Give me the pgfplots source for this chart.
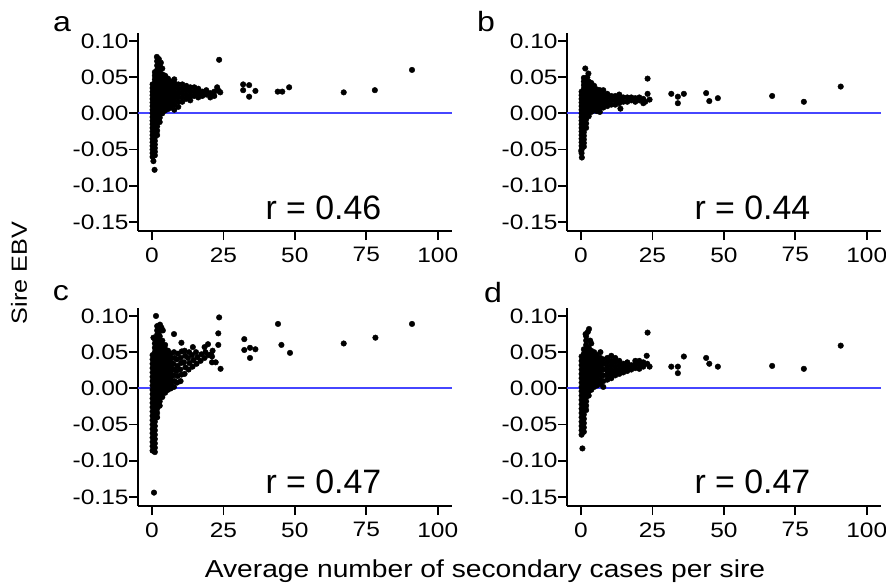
\documentclass[border=0pt]{standalone}
\usepackage{fontspec}
\setmainfont{Liberation Sans}
\newfontfamily\tickfont[FakeStretch=1.17]{Liberation Sans}
\newfontfamily\labfont[FakeStretch=1.15]{Liberation Sans}
\usepackage{pgfplots}
\pgfplotsset{compat=1.18}
\definecolor{zeroline}{RGB}{70,70,255}
\pgfplotsset{panel/.style={
  scale only axis, width=314bp, height=198bp,
  xmin=-4.9, xmax=105, ymin=-0.1625, ymax=0.111,
  axis lines=left, axis line style={line width=2bp, black, -},
  xtick={0,25,50,75,100}, xticklabels={0,25,50,75,100},
  ytick={-0.15,-0.10,-0.05,0,0.05,0.10},
  yticklabels={-0.15,-0.10,-0.05,0.00,0.05,0.10},
  tick style={line width=1.8bp, black}, major tick length=9bp, tick align=outside,
  ticklabel style={font=\tickfont\fontsize{21}{24}\selectfont},
  xticklabel style={yshift=-4bp},
  yticklabel style={xshift=3bp},
  clip=false,
},
dots/.style={only marks, mark=*, mark size=2.8bp, black, mark options={draw=black, fill=black}},
zl/.style={zeroline, line width=2bp},
}
\tikzset{rlab/.style={anchor=base, font=\fontsize{34}{38}\selectfont},
plab/.style={anchor=base, font=\labfont\fontsize{28}{30}\selectfont}}
\begin{document}
\begin{tikzpicture}
\path[use as bounding box] (0bp,0bp) rectangle (886bp,-587bp);
% ---------------- panel a
\begin{axis}[panel, at={(138bp,-231bp)}, anchor=south west]
\addplot[dots] coordinates {
(0.2,-0.060) (0.2,-0.055) (0.2,-0.050) (0.2,-0.045) (0.2,-0.040) (0.2,-0.035) (0.2,-0.030) (0.2,-0.025) (0.2,-0.020) (0.2,-0.015) (0.2,-0.010) (0.2,-0.005) (0.2,0.000) (0.2,0.005) (0.2,0.010) (0.2,0.015) (0.2,0.020) (0.2,0.025) (0.2,0.030) (0.2,0.035) (0.2,0.040)
(1.0,-0.058) (1.0,-0.053) (1.0,-0.048) (1.0,-0.043) (1.0,-0.038) (1.0,-0.033) (1.0,-0.028) (1.0,-0.023) (1.0,-0.018) (1.0,-0.013) (1.0,-0.008) (1.0,-0.003) (1.0,0.002) (1.0,0.007) (1.0,0.012) (1.0,0.017) (1.0,0.022) (1.0,0.027) (1.0,0.032) (1.0,0.037) (1.0,0.042) (1.0,0.047) (1.0,0.052) (1.0,0.057)
(1.8,-0.030) (1.8,-0.024) (1.8,-0.018) (1.8,-0.012) (1.8,-0.006) (1.8,0.000) (1.8,0.006) (1.8,0.012) (1.8,0.018) (1.8,0.024) (1.8,0.030) (1.8,0.036) (1.8,0.042) (1.8,0.048) (1.8,0.054) (1.8,0.060) (1.8,0.066) (1.8,0.072)
(0.5,-0.066) (0.9,-0.078) (1.7,0.078) (2.4,0.075) (3.1,0.070) (2.9,0.064) (3.6,0.062)
(2.7,-0.012) (2.7,-0.006) (2.7,0.000) (2.7,0.006) (2.7,0.012) (2.7,0.018) (2.7,0.024) (2.7,0.030) (2.7,0.036) (2.7,0.042) (2.7,0.048) (2.7,0.054) (2.7,0.060)
(3.6,0.000) (3.6,0.006) (3.6,0.012) (3.6,0.018) (3.6,0.024) (3.6,0.030) (3.6,0.036) (3.6,0.042) (3.6,0.048) (3.6,0.054)
(4.6,0.004) (4.6,0.010) (4.6,0.016) (4.6,0.022) (4.6,0.028) (4.6,0.034) (4.6,0.040) (4.6,0.046) (4.6,0.052)
(5.6,0.006) (5.6,0.012) (5.6,0.018) (5.6,0.024) (5.6,0.030) (5.6,0.036) (5.6,0.042) (5.6,0.048)
(6.6,0.008) (6.6,0.014) (6.6,0.020) (6.6,0.026) (6.6,0.032) (6.6,0.038) (6.6,0.044)
(7.8,0.005) (7.8,0.012) (7.8,0.018) (7.8,0.024) (7.8,0.030) (7.8,0.036) (7.8,0.042) (7.8,0.047)
(9.2,0.009) (9.2,0.016) (9.2,0.022) (9.2,0.028) (9.2,0.034) (9.2,0.040)
(10.6,0.016) (10.6,0.022) (10.6,0.028) (10.6,0.034) (10.6,0.040)
(12.0,0.020) (12.0,0.026) (12.0,0.032) (12.0,0.038)
(13.4,0.018) (13.4,0.024) (13.4,0.030) (13.4,0.036)
(14.8,0.024) (14.8,0.030) (14.8,0.036)
(16.2,0.022) (16.2,0.028) (16.2,0.034)
(17.6,0.024) (17.6,0.030) (19.0,0.026) (19.0,0.032) (20.4,0.022) (20.4,0.028) (21.8,0.024) (21.8,0.030)
(22.8,0.036) (23.4,0.031) (23.9,0.029) (23.5,0.074)
(31.9,0.040) (34.0,0.039) (31.9,0.032) (34.0,0.023) (36.2,0.031) (44.0,0.030) (45.6,0.030) (48.0,0.036) (67.1,0.029) (78.0,0.032) (91.0,0.060)
};
\addplot[zl] coordinates {(-4.9,0) (105,0)};
\node[rlab] at (axis cs:60,-0.147) {r = 0.46};
\end{axis}
% ---------------- panel b
\begin{axis}[panel, at={(567bp,-231bp)}, anchor=south west]
\addplot[dots] coordinates {
(0.2,-0.055) (0.2,-0.050) (0.2,-0.045) (0.2,-0.040) (0.2,-0.035) (0.2,-0.030) (0.2,-0.025) (0.2,-0.020) (0.2,-0.015) (0.2,-0.010) (0.2,-0.005) (0.2,0.000) (0.2,0.005) (0.2,0.010) (0.2,0.015) (0.2,0.020) (0.2,0.025) (0.2,0.030)
(1.0,-0.046) (1.0,-0.041) (1.0,-0.036) (1.0,-0.031) (1.0,-0.026) (1.0,-0.021) (1.0,-0.016) (1.0,-0.011) (1.0,-0.006) (1.0,-0.001) (1.0,0.004) (1.0,0.009) (1.0,0.014) (1.0,0.019) (1.0,0.024) (1.0,0.029) (1.0,0.034) (1.0,0.039) (1.0,0.044) (1.0,0.049)
(1.8,-0.020) (1.8,-0.014) (1.8,-0.008) (1.8,-0.002) (1.8,0.004) (1.8,0.010) (1.8,0.016) (1.8,0.022) (1.8,0.028) (1.8,0.034) (1.8,0.040) (1.8,0.046)
(0.3,-0.061) (0.1,-0.052) (1.5,0.062) (2.6,0.055) (2.2,0.050)
(2.7,-0.004) (2.7,0.002) (2.7,0.008) (2.7,0.014) (2.7,0.020) (2.7,0.026) (2.7,0.032) (2.7,0.038) (2.7,0.044)
(3.6,0.002) (3.6,0.008) (3.6,0.014) (3.6,0.020) (3.6,0.026) (3.6,0.032) (3.6,0.038) (3.6,0.042)
(4.6,0.004) (4.6,0.010) (4.6,0.016) (4.6,0.022) (4.6,0.028) (4.6,0.034) (4.6,0.038)
(5.6,0.003) (5.6,0.009) (5.6,0.015) (5.6,0.021) (5.6,0.027) (5.6,0.033)
(6.6,0.002) (6.6,0.008) (6.6,0.014) (6.6,0.020) (6.6,0.026) (6.6,0.032)
(7.8,0.008) (7.8,0.014) (7.8,0.020) (7.8,0.026) (7.8,0.032)
(9.2,0.010) (9.2,0.016) (9.2,0.022) (9.2,0.027)
(10.6,0.012) (10.6,0.018) (10.6,0.024) (12.0,0.012) (12.0,0.018) (12.0,0.024)
(13.4,0.014) (13.4,0.020) (13.4,0.026) (13.8,0.0065)
(14.8,0.016) (14.8,0.022) (16.2,0.016) (16.2,0.022) (17.6,0.018) (17.6,0.022) (19.0,0.016) (19.0,0.021) (20.4,0.018) (20.4,0.022) (21.8,0.014) (21.8,0.020)
(23.3,0.048) (23.3,0.027) (24.0,0.019) (22.5,0.016)
(31.6,0.027) (33.9,0.023) (33.9,0.014) (36.0,0.027) (43.8,0.028) (44.9,0.017) (47.9,0.021) (66.9,0.024) (78.0,0.016) (90.9,0.037)
};
\addplot[zl] coordinates {(-4.9,0) (105,0)};
\node[rlab] at (axis cs:60,-0.147) {r = 0.44};
\end{axis}
% ---------------- panel c
\begin{axis}[panel, at={(138bp,-506bp)}, anchor=south west]
\addplot[dots] coordinates {
(0.2,-0.086) (0.2,-0.080) (0.2,-0.074) (0.2,-0.068) (0.2,-0.062) (0.2,-0.056) (0.2,-0.050) (0.2,-0.044) (0.2,-0.038) (0.2,-0.032) (0.2,-0.026) (0.2,-0.020) (0.2,-0.014) (0.2,-0.008) (0.2,-0.002) (0.2,0.004) (0.2,0.010) (0.2,0.016) (0.2,0.022) (0.2,0.028) (0.2,0.034) (0.2,0.040) (0.2,0.046)
(1.0,-0.088) (1.0,-0.082) (1.0,-0.076) (1.0,-0.070) (1.0,-0.064) (1.0,-0.058) (1.0,-0.052) (1.0,-0.046) (1.0,-0.040) (1.0,-0.034) (1.0,-0.028) (1.0,-0.022) (1.0,-0.016) (1.0,-0.010) (1.0,-0.004) (1.0,0.002) (1.0,0.008) (1.0,0.014) (1.0,0.020) (1.0,0.026) (1.0,0.032) (1.0,0.038) (1.0,0.044) (1.0,0.050) (1.0,0.056) (1.0,0.062) (1.0,0.068)
(1.8,-0.040) (1.8,-0.034) (1.8,-0.028) (1.8,-0.022) (1.8,-0.016) (1.8,-0.010) (1.8,-0.004) (1.8,0.002) (1.8,0.008) (1.8,0.014) (1.8,0.020) (1.8,0.026) (1.8,0.032) (1.8,0.038) (1.8,0.044) (1.8,0.050) (1.8,0.056) (1.8,0.062) (1.8,0.068) (1.8,0.074) (1.8,0.080) (1.8,0.086)
(1.4,0.100) (0.7,-0.144) (2.8,0.088) (3.3,0.084) (2.5,0.078) (3.8,0.080) (0.5,0.070)
(2.7,-0.024) (2.7,-0.018) (2.7,-0.012) (2.7,-0.006) (2.7,0.000) (2.7,0.006) (2.7,0.012) (2.7,0.018) (2.7,0.024) (2.7,0.030) (2.7,0.036) (2.7,0.042) (2.7,0.048) (2.7,0.054) (2.7,0.060) (2.7,0.066) (2.7,0.072)
(3.6,-0.012) (3.6,-0.006) (3.6,0.000) (3.6,0.006) (3.6,0.012) (3.6,0.018) (3.6,0.024) (3.6,0.030) (3.6,0.036) (3.6,0.042) (3.6,0.048) (3.6,0.054) (3.6,0.060) (3.6,0.066)
(4.6,-0.006) (4.6,0.000) (4.6,0.006) (4.6,0.012) (4.6,0.018) (4.6,0.024) (4.6,0.030) (4.6,0.036) (4.6,0.042) (4.6,0.048) (4.6,0.054) (4.6,0.060)
(5.6,-0.002) (5.6,0.004) (5.6,0.010) (5.6,0.016) (5.6,0.022) (5.6,0.028) (5.6,0.034) (5.6,0.040) (5.6,0.046) (5.6,0.052)
(6.6,0.000) (6.6,0.006) (6.6,0.012) (6.6,0.018) (6.6,0.024) (6.6,0.030) (6.6,0.036) (6.6,0.042) (6.6,0.048)
(7.7,0.002) (7.9,0.010) (7.6,0.018) (7.8,0.026) (7.5,0.034) (7.9,0.042) (7.7,0.050) (7.7,0.075)
(8.8,0.008) (9.0,0.017) (8.6,0.024) (8.9,0.031) (8.7,0.040) (9.1,0.048)
(10.0,0.010) (10.3,0.019) (9.9,0.026) (10.2,0.035) (10.0,0.042) (10.4,0.051) (10.3,0.063)
(11.4,0.020) (11.7,0.029) (11.2,0.036) (11.6,0.045) (11.4,0.052)
(12.8,0.026) (13.1,0.035) (12.6,0.042) (13.0,0.050)
(14.2,0.030) (14.5,0.039) (14.0,0.046) (14.3,0.057)
(15.6,0.034) (15.9,0.043) (15.4,0.050) (17.0,0.038) (17.3,0.047)
(18.4,0.042) (18.7,0.050) (18.4,0.057) (19.8,0.046) (19.6,0.061) (21.0,0.044) (21.2,0.052) (21.0,0.036)
(22.3,0.036) (24.0,0.027) (23.5,0.098) (23.2,0.076) (23.2,0.060) (20.7,0.047)
(32.3,0.068) (32.3,0.053) (34.3,0.056) (34.3,0.042) (36.2,0.054) (44.1,0.089) (45.3,0.060) (48.3,0.049) (67.1,0.062) (78.2,0.070) (91.0,0.089)
};
\addplot[zl] coordinates {(-4.9,0) (105,0)};
\node[rlab] at (axis cs:60,-0.145) {r = 0.47};
\end{axis}
% ---------------- panel d
\begin{axis}[panel, at={(567bp,-506bp)}, anchor=south west]
\addplot[dots] coordinates {
(0.2,-0.064) (0.2,-0.058) (0.2,-0.052) (0.2,-0.046) (0.2,-0.040) (0.2,-0.034) (0.2,-0.028) (0.2,-0.022) (0.2,-0.016) (0.2,-0.010) (0.2,-0.004) (0.2,0.002) (0.2,0.008) (0.2,0.014) (0.2,0.020) (0.2,0.026) (0.2,0.032) (0.2,0.038) (0.2,0.044)
(1.0,-0.060) (1.0,-0.054) (1.0,-0.048) (1.0,-0.042) (1.0,-0.036) (1.0,-0.030) (1.0,-0.024) (1.0,-0.018) (1.0,-0.012) (1.0,-0.006) (1.0,0.000) (1.0,0.006) (1.0,0.012) (1.0,0.018) (1.0,0.024) (1.0,0.030) (1.0,0.036) (1.0,0.042) (1.0,0.048) (1.0,0.054)
(1.8,-0.030) (1.8,-0.024) (1.8,-0.018) (1.8,-0.012) (1.8,-0.006) (1.8,0.000) (1.8,0.006) (1.8,0.012) (1.8,0.018) (1.8,0.024) (1.8,0.030) (1.8,0.036) (1.8,0.042) (1.8,0.048) (1.8,0.054) (1.8,0.060) (1.8,0.066) (1.8,0.072)
(0.5,-0.083) (2.8,0.082) (1.6,0.075) (2.4,0.078) (3.2,0.066) (3.6,0.062)
(2.7,-0.010) (2.7,-0.004) (2.7,0.002) (2.7,0.008) (2.7,0.014) (2.7,0.020) (2.7,0.026) (2.7,0.032) (2.7,0.038) (2.7,0.044) (2.7,0.050) (2.7,0.056)
(3.6,-0.002) (3.6,0.004) (3.6,0.010) (3.6,0.016) (3.6,0.022) (3.6,0.028) (3.6,0.034) (3.6,0.040) (3.6,0.046) (3.6,0.052)
(4.6,0.002) (4.6,0.008) (4.6,0.014) (4.6,0.020) (4.6,0.026) (4.6,0.032) (4.6,0.038) (4.6,0.044) (4.6,0.050)
(5.6,0.004) (5.6,0.010) (5.6,0.016) (5.6,0.022) (5.6,0.028) (5.6,0.034) (5.6,0.040) (5.6,0.046)
(6.8,0.006) (6.8,0.012) (6.8,0.018) (6.8,0.024) (6.8,0.030) (6.8,0.036) (6.8,0.042) (6.8,0.050)
(7.8,0.002) (7.8,0.010) (7.8,0.018) (7.8,0.026) (7.8,0.034) (7.8,0.040)
(9.2,0.012) (9.2,0.018) (9.2,0.024) (9.2,0.030) (9.2,0.036) (9.2,0.042)
(10.6,0.014) (10.6,0.020) (10.6,0.026) (10.6,0.032) (10.6,0.038) (10.6,0.045)
(12.0,0.018) (12.0,0.024) (12.0,0.030) (12.0,0.036) (12.0,0.042)
(13.4,0.020) (13.4,0.026) (13.4,0.032) (13.4,0.038)
(14.8,0.022) (14.8,0.028) (14.8,0.034) (16.2,0.024) (16.2,0.030) (16.2,0.036)
(17.6,0.026) (17.6,0.032) (19.0,0.028) (19.0,0.034) (19.0,0.038) (20.4,0.027) (20.4,0.033) (20.4,0.038) (21.8,0.030) (21.8,0.036)
(23.3,0.077) (23.0,0.045) (24.0,0.030) (23.2,0.034)
(31.6,0.030) (33.9,0.030) (33.9,0.021) (36.0,0.044) (43.8,0.042) (44.9,0.034) (47.9,0.030) (66.9,0.031) (78.0,0.027) (90.9,0.059)
};
\addplot[zl] coordinates {(-4.9,0) (105,0)};
\node[rlab] at (axis cs:60,-0.145) {r = 0.47};
\end{axis}
% ---------------- labels
\node[plab] at (62bp,-31bp) {a};
\node[plab] at (486bp,-31bp) {b};
\node[plab] at (61bp,-300bp) {c};
\node[plab] at (493bp,-302bp) {d};
\node[rotate=90, font=\labfont\fontsize{22}{24}\selectfont] at (19bp,-273bp) {Sire EBV};
\node[anchor=base, font=\labfont\fontsize{24.6}{26}\selectfont] at (485bp,-577bp) {Average number of secondary cases per sire};
\end{tikzpicture}
\end{document}
